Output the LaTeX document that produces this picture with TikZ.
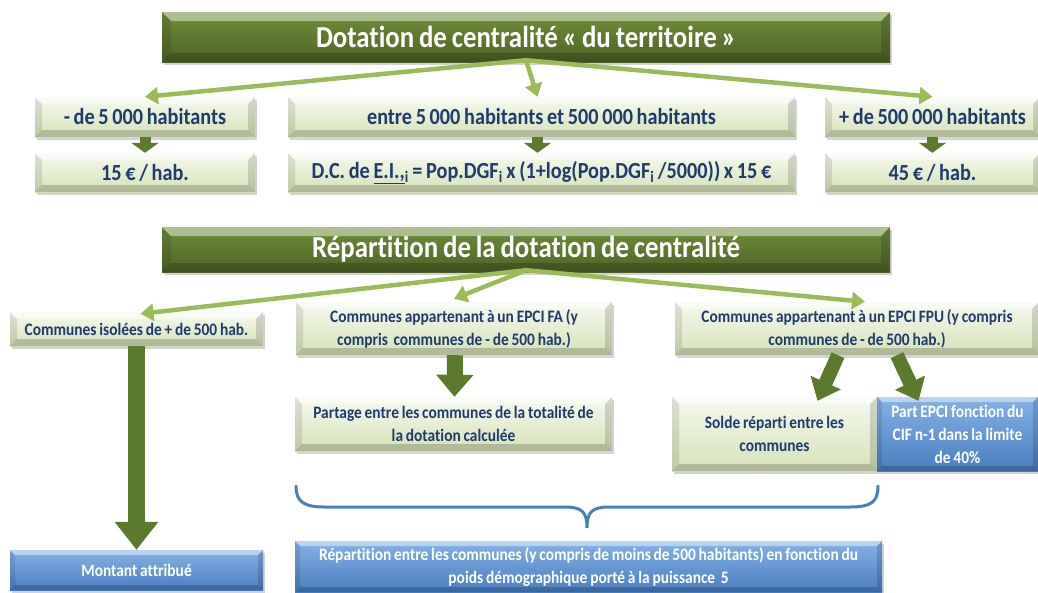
\documentclass[tikz,border=0pt]{standalone}
\usepackage{fontspec}
\setmainfont{Carlito}[FakeStretch=0.88,WordSpace=0.8,Ligatures=NoCommon]
\usetikzlibrary{arrows.meta,shadows,calc}
\definecolor{navy}{HTML}{1F3B6E}
\definecolor{dgreen}{HTML}{4F6228}
\definecolor{mgreen}{HTML}{6E8E38}
\definecolor{lgreen}{HTML}{9BBB59}
\definecolor{agreen}{HTML}{5C7A2E}
\definecolor{pale1}{HTML}{F6F9EF}
\definecolor{pale2}{HTML}{D5E2B8}
\definecolor{blue1}{HTML}{86B1E6}
\definecolor{blue2}{HTML}{4A7EBE}
\tikzset{
  bevel/.style={path picture={
    \path (path picture bounding box.south west) coordinate (@sw)
          (path picture bounding box.north east) coordinate (@ne)
          (path picture bounding box.north west) coordinate (@nw)
          (path picture bounding box.south east) coordinate (@se);
    \fill[black,opacity=0.10] (@nw) -- ([shift={(#1,-#1)}]@nw) -- ([shift={(#1,#1)}]@sw) -- (@sw) -- cycle;
    \fill[white,opacity=0.45] (@nw) -- (@ne) -- ([shift={(-#1,-#1)}]@ne) -- ([shift={(#1,-#1)}]@nw) -- cycle;
    \fill[black,opacity=0.14] (@ne) -- (@se) -- ([shift={(-#1,#1)}]@se) -- ([shift={(-#1,-#1)}]@ne) -- cycle;
    \fill[black,opacity=0.18] (@sw) -- (@se) -- ([shift={(-#1,#1)}]@se) -- ([shift={(#1,#1)}]@sw) -- cycle;
  }},
  shad/.style={drop shadow={opacity=0.35,shadow xshift=2pt,shadow yshift=-3pt}},
  lbox/.style={top color=pale1, bottom color=pale2, bevel=7pt, shad,
    text=navy, font=\fontsize{23}{26}\selectfont\bfseries, align=center, inner sep=2pt},
  sbox/.style={lbox, font=\fontsize{17.5}{23}\selectfont\bfseries},
  bbox/.style={top color=blue1, bottom color=blue2, bevel=5pt, shad,
    text=white, font=\fontsize{17.5}{23}\selectfont\bfseries, align=center, inner sep=2pt},
  titlebox/.style={top color=mgreen, bottom color=dgreen, bevel=9pt, shad,
    text=white, font=\fontsize{30.5}{33}\selectfont\bfseries, align=center},
  larrow/.style={draw=lgreen, line width=4.5pt, -{Triangle[length=13pt,width=17pt]}},
  darrow/.style={draw=agreen, line width=#1},
}
\begin{document}
\begin{tikzpicture}[x=1pt,y=-1pt]
\useasboundingbox (0,0) rectangle (1038,592);
% titles
\node[titlebox, minimum width=728pt, minimum height=50pt] (t1) at (526,37) {Dotation de centralité « du territoire »};
\node[titlebox, minimum width=728pt, minimum height=45pt] (t2) at (526,249.5) {Répartition de la dotation de centralité};
% row 1
\node[lbox, minimum width=220pt, minimum height=40pt] (a1) at (145,117) {- de 5 000 habitants};
\node[lbox, minimum width=507pt, minimum height=40pt] (a2) at (541.5,117) {entre 5 000 habitants et 500 000 habitants};
\node[lbox, minimum width=215pt, minimum height=40pt] (a3) at (932.5,117) {+ de 500 000 habitants};
% row 2
\node[lbox, minimum width=220pt, minimum height=39pt] (b1) at (145,172.5) {15 € / hab.};
\node[lbox, minimum width=507pt, minimum height=39pt] (b2) at (541.5,172.5) {D.C. de \underline{E.I.,}\textsubscript{i} = Pop.DGF\textsubscript{i} x (1+log(Pop.DGF\textsubscript{i} /5000)) x 15 €};
\node[lbox, minimum width=215pt, minimum height=39pt] (b3) at (932.5,172.5) {45 € / hab.};
% row 3
\node[sbox, minimum width=253pt, minimum height=34pt] (c1) at (136.5,329) {Communes isolées de + de 500 hab.};
\node[sbox, minimum width=316pt, minimum height=53pt] (c2) at (454,328.5) {Communes appartenant à un EPCI FA (y\\compris\ \ communes de - de 500 hab.)};
\node[sbox, minimum width=364pt, minimum height=53pt] (c3) at (857,328.5) {Communes appartenant à un EPCI FPU (y compris\\communes de - de 500 hab.)};
% row 4
\node[sbox, minimum width=317pt, minimum height=54pt] (d2) at (453.5,424) {Partage entre les communes de la totalité de\\la dotation calculée};
\node[sbox, minimum width=205pt, minimum height=74pt] (e1) at (774.5,434) {Solde réparti entre les\\communes};
\node[bbox, minimum width=161pt, minimum height=74pt] (e2) at (957.5,434) {Part EPCI fonction du\\CIF n-1 dans la limite\\de 40\%};
% bottom
\node[bbox, minimum width=253pt, minimum height=40pt] (f1) at (136.5,570) {Montant attribué};
\node[bbox, minimum width=587pt, minimum height=51pt] (f2) at (588.5,566.5) {Répartition entre les communes (y compris de moins de 500 habitants) en fonction du\\poids démographique porté à la puissance\ \ 5};
% light arrows
\draw[larrow] ([yshift=2pt]t1.south) -- (a1.north);
\draw[larrow] ([yshift=2pt]t1.south) -- ([xshift=-4pt]a2.north);
\draw[larrow] ([yshift=2pt]t1.south) -- (a3.north);
\draw[larrow] ([yshift=2pt]t2.south) -- ([xshift=4pt,yshift=-2pt]c1.north);
\draw[larrow] ([yshift=2pt]t2.south) -- ([yshift=3pt]c2.north);
\draw[larrow] ([yshift=2pt]t2.south) -- ([xshift=8pt]c3.north);
% dark arrows
\draw[darrow=11pt, -{Triangle[length=10pt,width=27pt]}] (a1.south) -- (b1.north);
\draw[darrow=11pt, -{Triangle[length=10pt,width=27pt]}] ([xshift=-4pt]a2.south) -- ([xshift=-4pt]b2.north);
\draw[darrow=11pt, -{Triangle[length=10pt,width=27pt]}] (a3.south) -- (b3.north);
\draw[darrow=17pt, -{Triangle[length=28pt,width=42pt]}] (c1.south) -- (f1.north);
\draw[darrow=16pt, -{Triangle[length=22pt,width=36pt]}] ([xshift=1pt]c2.south) -- ([xshift=1pt]d2.north);
\draw[darrow=14pt, -{Triangle[length=20pt,width=32pt]}] ([xshift=-19pt]c3.south) -- ([xshift=43pt,yshift=-4pt]e1.north);
\draw[darrow=14pt, -{Triangle[length=20pt,width=32pt]}] ([xshift=40pt]c3.south) -- ([xshift=-39pt,yshift=-4pt]e2.north);
% brace
\draw[blue2, line width=3pt, line cap=round]
  (296,486) .. controls (296,502) and (304,507) .. (325,507) -- (565,507)
  .. controls (582,507) and (587,512) .. (587,528)
  .. controls (587,512) and (592,507) .. (609,507) -- (850,507)
  .. controls (871,507) and (878,502) .. (878,486);
\end{tikzpicture}
\end{document}
